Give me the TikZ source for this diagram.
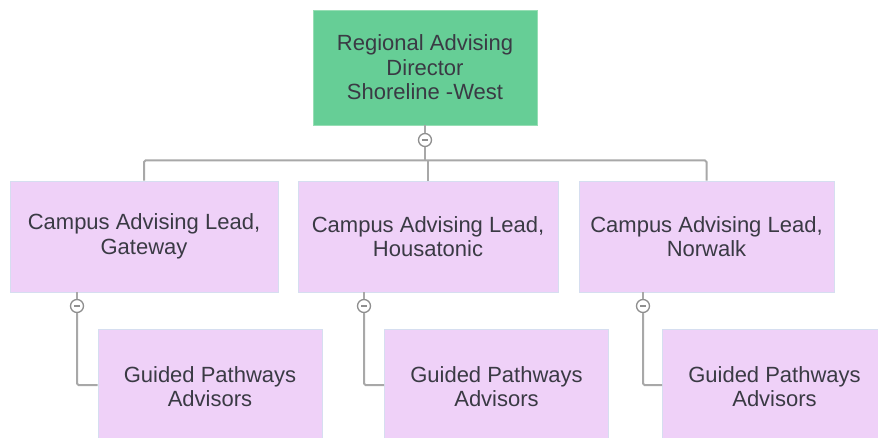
\documentclass[tikz,border=0pt]{standalone}
\usepackage{fontspec}
\setmainfont{Liberation Sans}

\definecolor{dirgreen}{RGB}{102,206,150}
\definecolor{dirframe}{RGB}{150,222,180}
\definecolor{leadpink}{RGB}{239,209,248}
\definecolor{leadframe}{RGB}{214,222,240}
\definecolor{linkgray}{RGB}{168,168,168}
\definecolor{textgray}{RGB}{58,58,68}

\tikzset{
  director/.style={draw=dirframe, fill=dirgreen, line width=0.8pt, minimum width=224pt, minimum height=115pt, inner sep=0pt, align=center, text=textgray, font=\fontsize{22}{24.5}\selectfont},
  lead/.style={draw=leadframe, fill=leadpink, line width=0.8pt, minimum height=111pt, inner sep=0pt, align=center, text=textgray, font=\fontsize{22}{24.5}\selectfont},
  advisor/.style={lead, minimum width=224pt, minimum height=115pt},
  link/.style={draw=linkgray, line width=2pt, rounded corners=1.5pt},
  toggle/.style={circle, draw=linkgray!85!black, fill=white, line width=1.3pt, minimum size=13pt, inner sep=0pt,
    path picture={\draw[linkgray!85!black, line width=1.2pt] ([xshift=-3pt]path picture bounding box.center) -- ([xshift=3pt]path picture bounding box.center);}}
}

\begin{document}
\begin{tikzpicture}[x=1pt, y=-1pt]

  % Rahmen
  \useasboundingbox (0,0) rectangle (878,438);
  \clip (0,0) rectangle (878,438);

  % Leitung
  \node[director] (dir) at (425,67.5) {Regional Advising\\Director\\Shoreline -West};

  % Campus-Leads
  \node[lead, minimum width=268pt] (gw) at (144,236.5) {Campus Advising Lead,\\Gateway};
  \node[lead, minimum width=260pt] (hs) at (428,236.5) {Campus Advising Lead,\\Housatonic};
  \node[lead, minimum width=255pt] (nw) at (706.5,236.5) {Campus Advising Lead,\\Norwalk};

  % Berater
  \node[advisor] (gwadv) at (210,386.5) {Guided Pathways\\Advisors};
  \node[advisor] (hsadv) at (496.5,386.5) {Guided Pathways\\Advisors};
  \node[advisor] (nwadv) at (774.5,386.5) {Guided Pathways\\Advisors};

  % Schalter
  \node[toggle] (dirtog) at (425,140) {};
  \node[toggle] (gwtog) at (77,306) {};
  \node[toggle] (hstog) at (364,306) {};
  \node[toggle] (nwtog) at (643,306) {};

  % Verbindungen oben
  \coordinate (bus) at (425,160.5);
  \draw[link] (dir.south) -- (dirtog.north);
  \draw[link] (dirtog.south) -- (bus);
  \draw[link] (bus) -| (gw.north);
  \draw[link] (bus) -| (nw.north);
  \draw[link] (bus -| hs.north) -- (hs.north);

  % Verbindungen unten
  \draw[link] (gwtog |- gw.south) -- (gwtog.north);
  \draw[link] (gwtog.south) |- (gwadv.west |- 0,385);
  \draw[link] (hstog |- hs.south) -- (hstog.north);
  \draw[link] (hstog.south) |- (hsadv.west |- 0,385);
  \draw[link] (nwtog |- nw.south) -- (nwtog.north);
  \draw[link] (nwtog.south) |- (nwadv.west |- 0,385);

\end{tikzpicture}
\end{document}
